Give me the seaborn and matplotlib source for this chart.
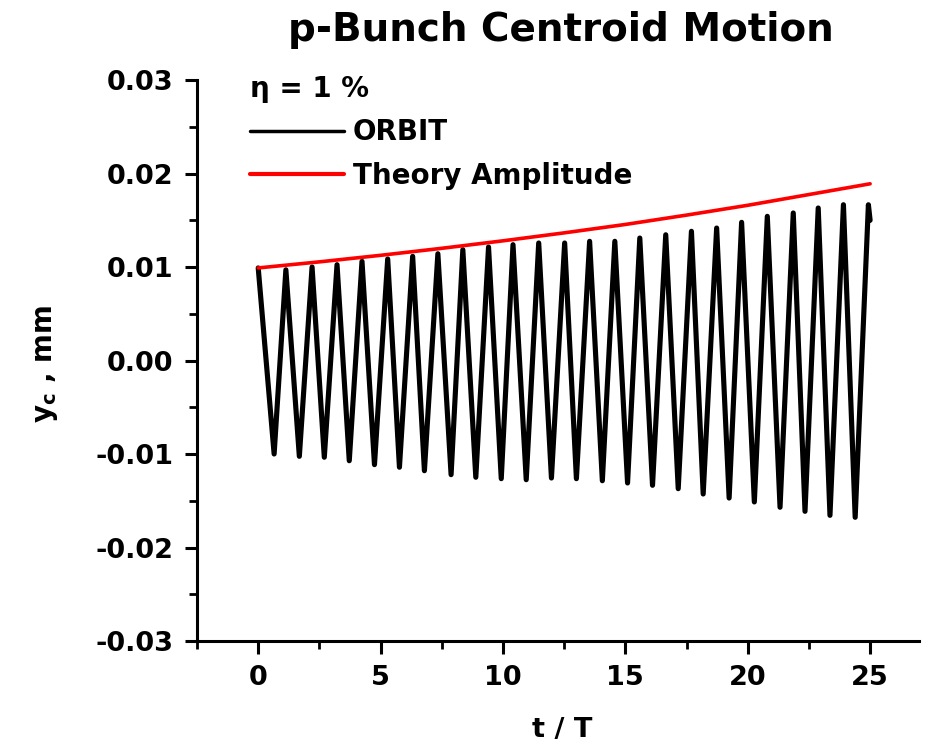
import matplotlib
matplotlib.use("Agg")
import matplotlib.pyplot as plt
import seaborn as sns
import pandas as pd
from matplotlib.ticker import MultipleLocator, FormatStrFormatter

# ---- data ----
orbit_t = [0.00, 0.65, 1.13, 1.68, 2.20, 2.70, 3.22, 3.72, 4.24, 4.75, 5.29, 5.77,
           6.31, 6.79, 7.34, 7.88, 8.36, 8.89, 9.41, 9.93, 10.41, 10.95, 11.46, 11.98,
           12.52, 13.00, 13.54, 14.06, 14.57, 15.09, 15.59, 16.11, 16.65, 17.16, 17.70,
           18.18, 18.73, 19.24, 19.75, 20.27, 20.80, 21.32, 21.86, 22.34, 22.88, 23.36,
           23.91, 24.39, 24.93, 25.00]
orbit_y = [0.0099, -0.0100, 0.0097, -0.01025, 0.0100, -0.01035, 0.01025, -0.01072,
           0.01061, -0.01114, 0.01086, -0.01142, 0.01114, -0.01179, 0.01142, -0.01221,
           0.01185, -0.01249, 0.01214, -0.01264, 0.01239, -0.01275, 0.01257, -0.01257,
           0.01257, -0.01264, 0.01275, -0.01286, 0.01275, -0.01310, 0.01310, -0.01335,
           0.01345, -0.01371, 0.01382, -0.01428, 0.01417, -0.01471, 0.01478, -0.01513,
           0.01542, -0.01570, 0.01578, -0.01613, 0.01631, -0.01656, 0.01666, -0.01677,
           0.01666, 0.0150]

theory_t = [0, 2.5, 5, 7.5, 10, 12.5, 15, 17.5, 20, 22.5, 25]
theory_y = [0.0099, 0.01055, 0.01125, 0.0120, 0.0128, 0.01365, 0.01455, 0.01555,
            0.0166, 0.01775, 0.0189]

series_names = ["ORBIT", "Theory Amplitude"]
series_colors = ["black", "red"]
x_ticks = [0, 5, 10, 15, 20, 25]
y_ticks = [-0.03, -0.02, -0.01, 0.00, 0.01, 0.02, 0.03]

df = pd.concat([
    pd.DataFrame({"t": orbit_t, "y": orbit_y, "series": series_names[0]}),
    pd.DataFrame({"t": theory_t, "y": theory_y, "series": series_names[1]}),
], ignore_index=True)

sns.set_style("ticks")
plt.rcParams["font.family"] = ["DejaVu Sans"]
plt.rcParams["font.weight"] = "bold"
plt.rcParams["axes.labelweight"] = "bold"
plt.rcParams["mathtext.default"] = "bf"
for k in ["text.color", "axes.labelcolor", "xtick.color", "ytick.color",
          "axes.edgecolor"]:
    plt.rcParams[k] = "black"

fig = plt.figure(figsize=(9.36, 7.47), dpi=100)
ax = fig.add_axes([0.2105, 0.1419, 0.7714, 0.751])

sns.lineplot(data=df, x="t", y="y", hue="series", hue_order=series_names,
             palette=dict(zip(series_names, series_colors)), estimator=None,
             sort=False, ax=ax, legend=True)
for ln, lw in zip(ax.lines[:2], [3.7, 2.6]):
    ln.set_linewidth(lw)
    ln.set_solid_joinstyle("round")
    ln.set_solid_capstyle("round")

ax.set_xlim(-2.5, 27.0)
ax.set_ylim(-0.03, 0.03)
ax.set_xticks(x_ticks)
ax.set_yticks(y_ticks)
ax.xaxis.set_minor_locator(MultipleLocator(2.5))
ax.yaxis.set_minor_locator(MultipleLocator(0.005))
ax.yaxis.set_major_formatter(FormatStrFormatter("%.2f"))
ax.xaxis.set_major_formatter(FormatStrFormatter("%d"))

sns.despine(ax=ax)
for s in ["left", "bottom"]:
    ax.spines[s].set_linewidth(2.2)
    ax.spines[s].set_color("black")
ax.tick_params(which="major", direction="out", length=9, width=2.2,
               labelsize=19.5, pad=8, colors="black")
ax.tick_params(which="minor", direction="out", length=6, width=2.0, colors="black")

ax.set_xlabel("t / T", fontsize=19.5, fontweight="bold")
ax.set_ylabel("y$_c$ , mm", fontsize=20, fontweight="bold")
ax.xaxis.set_label_coords(0.506, -0.136)
ax.yaxis.set_label_coords(-0.19, 0.494)

fig.text(561 / 936, 1 - 30 / 747, "p-Bunch Centroid Motion", fontsize=28,
         fontweight="bold", ha="center", va="center", color="black")

handles, labels = ax.get_legend_handles_labels()
leg = ax.legend(handles, labels, title="η = 1 %", loc="upper left",
                bbox_to_anchor=(0.073, 1.009), frameon=False, borderpad=0,
                borderaxespad=0, handlelength=3.4, handletextpad=0.32,
                labelspacing=0.55,
                prop={"size": 20, "weight": "bold"},
                title_fontproperties={"size": 20, "weight": "bold"})
leg._legend_box.align = "left"
for h, lw in zip(leg.get_lines(), [2.5, 3.0]):
    h.set_linewidth(lw)

fig.savefig("out.png", dpi=100)
